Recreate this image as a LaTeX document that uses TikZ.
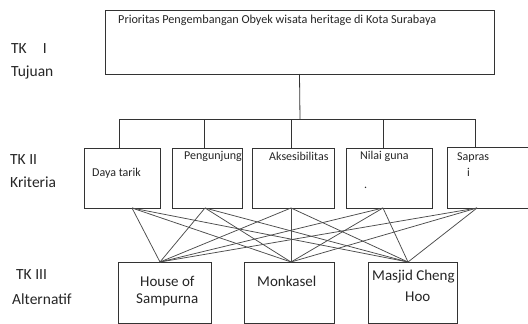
\documentclass[tikz,border=0pt]{standalone}
\usepackage{fontspec}
\setmainfont{Carlito}
\begin{document}
\begin{tikzpicture}[x=1pt,y=-1pt,
  box/.style={draw=black!80,line width=0.9pt,anchor=north west,inner sep=0pt,outer sep=0pt},
  lbl/.style={anchor=west,inner sep=0pt,text=black!85,font=\fontsize{15.5}{17}\selectfont},
  small/.style={anchor=west,inner sep=0pt,text=black!85,font=\fontsize{12}{14}\selectfont},
  alt/.style={anchor=west,inner sep=0pt,text=black!85,font=\fontsize{15}{17}\selectfont},
  wire/.style={draw=black!80,line width=0.8pt},
  cross/.style={draw=black!70,line width=0.75pt}]
\clip (0,0) rectangle (528,324);
\fill[white] (0,0) rectangle (528,324);
% top box
\node[box,minimum width=389pt,minimum height=64pt] (top) at (105,10) {};
\node[small,font=\fontsize{12.2}{14}\selectfont] (ttext) at (118,20) {Prioritas Pengembangan Obyek wisata heritage di Kota Surabaya};
% criteria boxes
\node[box,minimum width=76pt,minimum height=60pt] (k1) at (84,148) {};
\node[box,minimum width=70pt,minimum height=60pt] (k2) at (172,148) {};
\node[box,minimum width=82pt,minimum height=60pt] (k3) at (252,148) {};
\node[box,minimum width=86pt,minimum height=60pt] (k4) at (346,148) {};
\node[box,minimum width=95pt,minimum height=61pt] (k5) at (447,147) {};
\node[small] (t1) at (92,173) {Daya tarik};
\node[small] (t2) at (184,156) {Pengunjung};
\node[small] (t3) at (269,156) {Aksesibilitas};
\node[small] (t4) at (360,156) {Nilai guna};
\node[small] (t4b) at (364,188) {.};
\node[small] (t5) at (457,158) {Sapras};
\node[small] (t5b) at (467,172) {i};
% alternative boxes
\node[box,minimum width=93pt,minimum height=61pt] (a1) at (118,262) {};
\node[box,minimum width=90pt,minimum height=61pt] (a2) at (244,262) {};
\node[box,minimum width=89pt,minimum height=61pt] (a3) at (368,262) {};
\node[alt] (u1) at (140,281) {House of};
\node[alt] (u1b) at (136,300) {Sampurna};
\node[alt] (u2) at (257,281) {Monkasel};
\node[alt] (u3) at (372,277) {Masjid Cheng};
\node[alt] (u3b) at (405,297) {Hoo};
% level labels
\node[lbl] (l1) at (11,49) {TK\hspace{16pt}I};
\node[lbl] (l1b) at (11,72) {Tujuan};
\node[lbl] (l2) at (10,160) {TK II};
\node[lbl] (l2b) at (10,182) {Kriteria};
\node[lbl] (l3) at (16,275) {TK III};
\node[lbl] (l3b) at (12,299) {Alternatif};
% tree connectors
\coordinate (bus) at (300,119);
\coordinate (d1) at (119,119);
\coordinate (d2) at (204,119);
\coordinate (d3) at (291,119);
\coordinate (d4) at (383,119);
\coordinate (d5) at (475,119);
\draw[wire] (top.south) -- (bus);
\draw[wire] (d1) -- (d5);
\draw[wire] (d1) -- (d1 |- k1.north);
\draw[wire] (d2) -- (d2 |- k2.north);
\draw[wire] (d3) -- (d3 |- k3.north);
\draw[wire] (d4) -- (d4 |- k4.north);
\draw[wire] (d5) -- (d5 |- k5.north);
% crossing connectors
\coordinate (b1) at (132,0 |- k1.south);
\coordinate (b2) at (205,0 |- k2.south);
\coordinate (b3) at (291,0 |- k3.south);
\coordinate (b4) at (383,0 |- k4.south);
\coordinate (b5) at (477,0 |- k5.south);
\coordinate (p1) at (160,0 |- a1.north);
\coordinate (p2) at (291,0 |- a2.north);
\coordinate (p3) at (408,0 |- a3.north);
\foreach \b in {b1,b2,b3,b4,b5}{
  \foreach \p in {p1,p2,p3}{
    \draw[cross] (\b) -- (\p);
  }
}
\end{tikzpicture}
\end{document}
